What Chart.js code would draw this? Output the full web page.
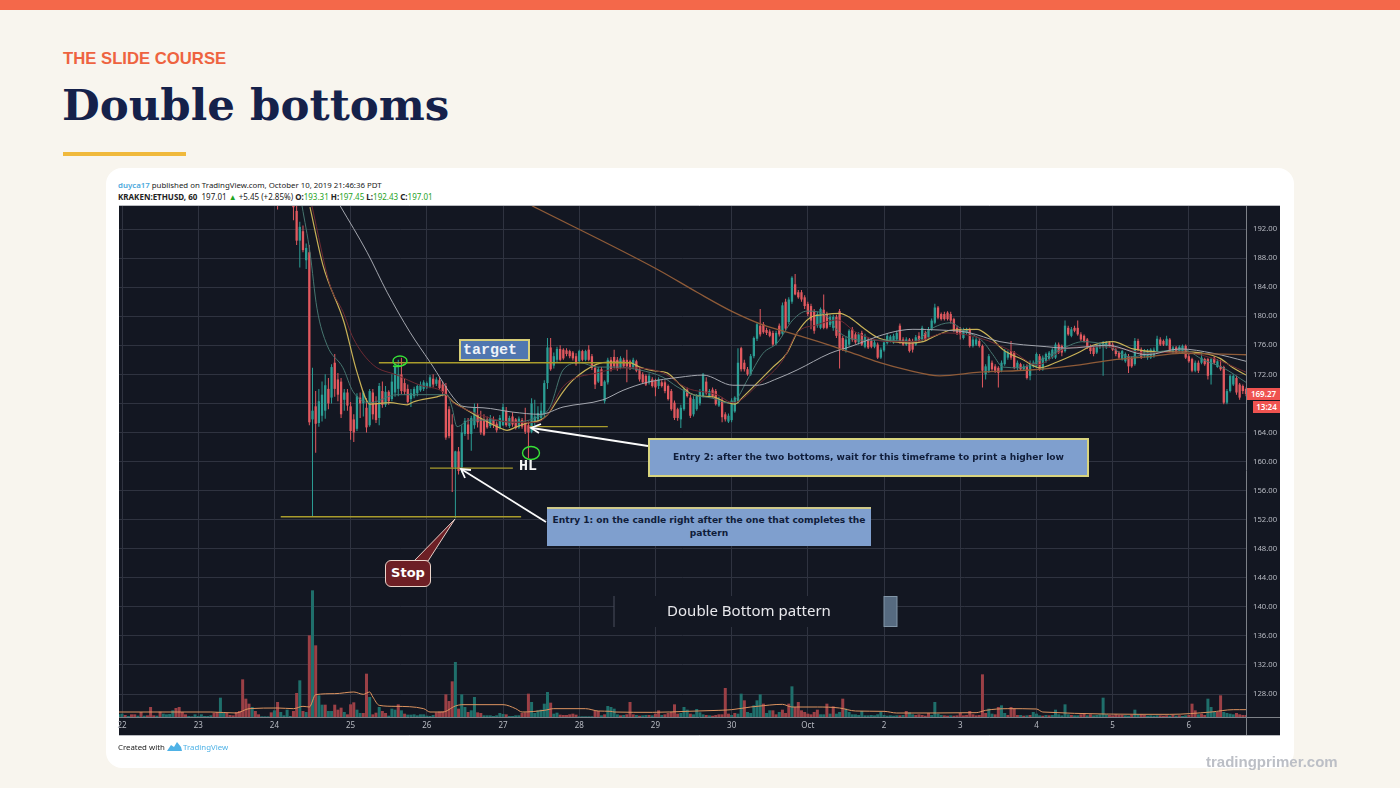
<!DOCTYPE html>
<html><head><meta charset="utf-8">
<script src="https://cdn.jsdelivr.net/npm/chart.js@4"></script>
<style>
html,body{margin:0;padding:0;background:#f8f5ee;}
body{position:relative;width:1400px;height:788px;overflow:hidden;font-family:"Liberation Sans",sans-serif;}
.a{position:absolute;white-space:nowrap;}
#cv{position:absolute;left:0;top:0;width:1400px;height:788px;}
.tv{font-family:"Noto Sans",sans-serif;}
.g{color:#1fa31f;}
.note{background:#7f9fce;color:#101d3a;font-family:"DejaVu Sans",sans-serif;font-weight:bold;font-size:9.1px;text-align:center;box-sizing:border-box;}
</style></head><body>
<div class="a" style="left:0;top:0;width:1400px;height:10px;background:#f4684a"></div>
<div class="a" style="left:63px;top:49px;font:bold 16.7px 'Liberation Sans',sans-serif;color:#ee6340">THE SLIDE COURSE</div>
<div class="a" style="left:62px;top:79px;font:bold 43.5px 'DejaVu Serif',serif;color:#15214a;" id="ttl">Double bottoms</div>
<div class="a" style="left:63px;top:152px;width:123px;height:4px;background:#f0b93c"></div>
<div class="a" style="left:106px;top:168px;width:1188px;height:600px;background:#fff;border-radius:16px"></div>
<div class="a tv" style="left:118px;top:179px;font-size:7.85px;line-height:12px;color:#222"><span style="color:#4aa8dc;font-weight:600">duyca17</span> published on TradingView.com, October 10, 2019 21:46:36 PDT</div>
<div class="a tv" style="left:118px;top:191px;font-size:8px;line-height:12px;color:#222"><b>KRAKEN:ETHUSD, 60</b>&nbsp; 197.01 <span class="g">▲</span> +5.45 (+2.85%) <b>O:</b><span class="g">193.31</span> <b>H:</b><span class="g">197.45</span> <b>L:</b><span class="g">192.43</span> <b>C:</b><span class="g">197.01</span></div>
<canvas id="cv" width="1400" height="788"></canvas>

<svg class="a" style="left:0;top:0" width="1400" height="788" viewBox="0 0 1400 788">
  <rect x="614" y="596" width="270" height="31" fill="#131722"/>
  <line x1="614" y1="596" x2="614" y2="627" stroke="#4a4f5c" stroke-width="1"/>
  <rect x="884" y="596.5" width="13" height="30" fill="#566a80" stroke="#8296a8" stroke-width="1"/>
  <g fill="none" stroke="#fbfbfb" stroke-width="1.8">
    <path d="M648 446 L532 428"/><path d="M541 424 L531 428 L539 433"/>
    <path d="M546 522 L461 469"/><path d="M471 470 L461 469 L465 478"/>
  </g>
  <g fill="none" stroke="#37e237" stroke-width="1.4">
    <ellipse cx="400" cy="361" rx="7" ry="5"/><path d="M405 364 Q399 368 393 366"/>
    <ellipse cx="531" cy="453" rx="8.5" ry="6.5"/>
  </g>
  <path d="M414 561 L428 561 L455 519 Z" fill="#6d1f25" stroke="#e6cfc8" stroke-width="1"/>
</svg>
<div class="a" style="left:459px;top:339px;width:71px;height:22px;box-sizing:border-box;background:#5076b0;border:2px solid #d8cf78;color:#eef2f8;font:bold 15px/20px 'Liberation Mono',monospace;padding-left:2px">target</div>
<div class="a" style="left:519px;top:459px;color:#f4f4f4;font:bold 15px/16px 'Liberation Mono',monospace">HL</div>
<div class="a note" style="left:648px;top:438px;width:441px;height:39px;border:2px solid #d8d47e;line-height:35px;">Entry 2: after the two bottoms, wait for this timeframe to print a higher low</div>
<div class="a note" style="left:547px;top:507px;width:324px;height:39px;border-top:2px solid #cfc98a;padding-top:5px;line-height:13px;white-space:normal;">Entry 1: on the candle right after the one that completes the<br>pattern</div>
<div class="a" style="left:385px;top:560px;width:46px;height:27px;box-sizing:border-box;background:#6d1f25;border:1.5px solid #ecd6cc;border-radius:6px;color:#fff;font:bold 13px/24px 'DejaVu Sans',sans-serif;text-align:center">Stop</div>
<div class="a" style="left:614px;top:600px;width:270px;text-align:center;color:#e8e8ec;font:15px/20px 'Noto Sans',sans-serif">Double Bottom pattern</div>
<div class="a tv" style="left:1247px;top:388px;width:33px;height:12px;background:#ef5350;color:#fff;font-size:8px;line-height:12px;text-align:center;font-weight:600">169.27</div>
<div class="a tv" style="left:1253px;top:401px;width:27px;height:12px;background:#ef5350;color:#fff;font-size:8px;line-height:12px;text-align:center;font-weight:600">13:24</div>
<div class="a tv" style="left:118px;top:741px;font-size:7.85px;line-height:12px;color:#222">Created with</div>
<svg class="a" style="left:167px;top:741px" width="15" height="11" viewBox="0 0 15 11"><path d="M0 10 L4 4 L7 6 L10 1 L14 6 L15 10 Z" fill="#4fb2e6"/></svg>
<div class="a tv" style="left:183px;top:741px;font-size:7.85px;line-height:12px;color:#4fb2e6">TradingView</div>
<div class="a" style="left:1206px;top:753px;font:bold 15px/18px 'Liberation Sans',sans-serif;color:#bcbfc6">tradingprimer.com</div>

<script>
// x axis: hours since 22 Sep 00:00
const dayLabels = ['22','23','24','25','26','27','28','29','30','Oct','2','3','4','5','6'];
const dayHours  = [0,24,48,72,96,120,144,168,192,216,240,264,288,312,336];
const priceTicks = [128,132,136,140,144,148,152,156,160,164,168,172,176,180,184,188,192];

const firstCandleHour = 49;
const opens = [
197.5,198,197,198,197,196,194.5,190.4,191.7,187.7,
188.8,165.8,167.6,165.3,166.3,167,170,168.8,173.6,171.3,
171,168.5,169.5,167.6,165.8,164.5,168.8,168,167.4,165,
169.5,168,166,169.7,167.8,169.6,168.6,169.5,170,172,
170.8,170,168.6,169,169.4,169.8,170,170.2,170.3,171.4,
170.7,171.2,170.6,170.4,167.2,165.1,159.2,161.4,159.2,163.8,
165.1,163.8,165,166.5,166,165.8,165.8,164.9,165.8,165.2,
164.6,165,167,164.9,166.2,165.8,164.7,165.7,165.3,165,
164.1,165.5,165.8,166,166.5,170.8,175.7,173.2,174,175.5,
175.4,175.3,175.2,175,174.5,173.8,175.2,174,175.4,174.5,
172.9,171,172.7,168.3,170.9,174,174.4,174,173,174,
174,173.8,172.9,173.8,172.7,172,171.8,170.9,171.3,171.1,
170.4,170.9,170.9,170.4,169.7,168.1,167.2,165.8,167.2,169.9,
168.8,166.5,167.2,168,169,171,169,169.9,169.7,167.7,
168.4,166.5,165.5,165.7,166.9,168.2,175.6,173.6,172.7,172,
174.5,176.9,178.7,178.9,178.1,177.9,177.7,176.2,178.7,177.6,
182,179.2,182,184.4,183.3,183.3,182.6,181.7,181.4,180.7,
178.7,178.4,180.9,180.3,178.8,178.4,179.9,180.7,177,175.4,
176.1,178.2,177.5,176.4,177.7,175.8,176.8,176.6,175.8,176.1,
174.3,175.3,176.3,176.6,176.4,176.8,178.7,176.8,176.1,176.8,
176.6,176.1,177.3,176.8,177.7,177.1,178.2,179.1,181.2,180.3,
180.3,180.5,180.3,179.6,178.4,178.2,177,177.7,178.2,175.9,
176.1,176.6,175.9,172,172.5,173.6,173.1,172.9,172.5,173.4,
174.3,175.2,175,172.9,173.4,172.7,173.1,171.8,173.1,173.1,
174.5,172.7,173.8,174.1,174.3,174.3,176.1,175.9,175.2,178.4,
177.3,178.4,178.4,177.5,177.3,176.8,175.9,175.7,175,175.7,
175.7,175.7,176.4,176.1,175.4,175,174.1,173.8,174.5,174.3,
173.4,176.6,175.4,174.5,174.3,174.3,174.5,175,176.8,176.6,
176,176.8,175,175.7,175.2,175,175.9,174.5,174.1,172.5,
173.6,173.6,174.1,174.1,171.9,174.3,173,173.1,173,168.1,
169.7,170.6,171.5,170.6,170.4,170];
const closes = [
197,197,198,197,196,195,190.4,192.3,189.1,189.4,
165.4,167,165.2,168.3,169.2,170.5,168,173,170,169.2,
166.5,169.5,167.7,164.2,164,169,168,169.5,164.7,169.7,
166.5,165.7,170.4,167.8,169.6,168.3,171,173,172,169.7,
169.6,168.2,169.4,170,170.4,170.6,170.9,170.8,171.6,170.6,
171.3,170.1,169.6,163.3,163.5,159.2,161.4,158.7,164,165.6,
163.8,166,167.4,165.4,164,163.7,164.7,166,165,164.3,
166,167.5,165,166,165.1,164.6,165.9,164.8,164.1,164,
168,166.2,166.7,167,170.8,175.7,172.7,174.5,175.5,174,
174.2,174.8,174.5,174.2,173.4,175.2,174,175.2,174,172.9,
170.6,172.7,170.4,171,174,172.7,173.1,172.8,174.2,173.1,
173.1,172.9,174,172.5,171.3,170.9,170.6,171.8,170.4,170.2,
171.3,170.4,169.7,168.6,167.2,166,166,167.4,169.9,169,
166.3,168.6,169,169.7,172,169.4,169.7,169,167.9,168.6,
166.1,165.8,166.3,168.4,168.8,173.6,172.7,172.7,172,174.5,
177,178.9,177.5,177.8,177.7,177.3,176.1,177.7,177.5,181.5,
178.3,182.3,185.3,183,182.6,182.3,181.4,180.3,179.4,178,
180.3,181,178.4,178.4,179.9,179.9,177.3,175.4,175.4,176.8,
178,176.8,176.4,177.5,176.1,177.3,175.7,175.8,176.4,174.3,
175.4,176.4,177.3,177.2,177.3,177.7,176.4,176.1,176.8,175.2,
175.4,177.1,176.6,178.4,176.8,178.2,179.4,181.2,179.8,179.6,
179.6,179.6,179.4,178,177.7,177.5,178.2,178.2,175.9,176.8,
176.8,175.9,172.5,173.1,174.5,172.7,172.5,172.2,173.6,175.2,
175,174.3,172.9,173.6,172.7,173.1,171.5,173.6,173.6,174.8,
172.7,174.3,174.8,175,175.4,176.1,175,175,178.7,177.5,
178.2,178,177.5,176.8,176.6,175.7,175.2,174.8,175.9,176.1,
176.4,176.4,175.9,175.4,174.8,174.3,175.2,174.8,173.1,173.1,
176.6,175.4,174.3,175.2,175.2,175.4,175.4,176.9,176.1,176.1,
176.9,175.2,175.7,175,175.8,175.9,174.3,173.8,172.5,173.6,
172.5,174.3,173.4,171.8,174.1,173.6,173.8,172.7,168.1,169.7,
171.8,171.8,169.5,168.8,169.7,169.3];
const highs = [
199,198.5,198.6,198.5,197.5,197,196,193,192.5,190,
189.8,172.9,169.7,170,171,172,171.5,173.4,174.8,172.2,
171.5,170,170,168.2,166.5,169.4,169.5,169.7,168.7,170,
170,169,170.8,171,170.4,169.8,172,173.5,174,174.3,
171.5,170.6,170,170.3,170.6,171,171.2,171,171.9,172,
171.6,171.6,171,170.8,167.6,166.5,161.5,162,165,166,
166,166.3,168,168,167,166.5,166.2,166.4,166.2,165.5,
166.4,168,167.5,166.3,166.8,166,166.2,166,167.4,165.5,
168.7,168.5,167.6,168.1,171.2,177,177,175,175.8,176,
175.6,175.6,175.4,175.2,174.9,175.4,175.4,175.4,176,174.8,
173.2,173,173,171.2,174.3,174.4,175.4,174.4,174.5,174.3,
175.4,174,174.3,174,173,172.3,172,172.1,171.6,171.4,
171.6,171.2,171.2,170.6,170,168.4,167.4,167.8,170.2,170.2,
169.2,169,169.3,170,172.2,171.6,170,170.2,170,168.9,
168.8,166.8,166.6,168.7,169,175.6,175.8,174,173,174.8,
177.2,179.2,181,179.2,178.4,178.2,178,178,179,181.9,
182.4,182.6,185.5,185.8,183.6,183.6,182.9,182,181.7,181,
180.6,181.2,183,180.6,180.2,180.2,180.2,181,177.3,177.2,
178.2,178.5,177.8,177.8,178,177.6,177.1,176.9,176.7,176.4,
175.7,176.6,177.6,177.4,177.6,178,179,177.1,177.1,177,
176.9,177.4,177.8,178.7,178,178.5,179.7,181.7,181.4,180.5,
180.6,180.7,180.6,179.8,178.7,178.5,178.4,178.4,178.4,177.2,
177.1,176.9,176.1,173.4,174.8,173.9,173.4,173.1,173.9,175.5,
175.3,176.6,175.2,173.9,173.6,173.4,173.4,173.9,173.9,175,
174.8,174.6,175,175.2,175.6,176.4,176.4,176.1,179.4,178.7,
178.5,178.7,179.4,177.8,177.5,177,176.1,175.9,176.1,176.4,
176.6,176.6,176.6,176.4,175.7,175.2,175.4,175,174.8,174.5,
177,176.9,175.7,175.5,175.5,175.6,175.7,177.3,177.1,176.8,
177.3,177,175.9,175.9,176,176.1,176.1,174.8,174.3,173.9,
173.9,175,174.3,174.3,174.3,174.5,174.1,174,173.2,170,
172,172,171.8,170.8,170.6,170.2];
const lows = [
194.7,196.5,196,196,195.5,193.2,189.8,186.7,188.8,186.5,
165,152.5,161.2,164.8,165.5,165.9,167.2,168,168.9,168.3,
166,167,167,163,162.7,164.2,166,166.2,164,164.8,
165.8,165.3,165,167.4,167.5,167.8,168.3,168.9,169,169.3,
169.2,168,167.5,168.7,169,169.6,169.7,170,170.1,170.2,
170.4,169.9,169,163,163.2,155.8,152.2,158.2,158.5,163.5,
163,161.5,164.5,164.7,163.7,163.5,164.5,164.6,164.6,164,
164.4,164.9,164.8,164.6,164.8,164.4,164.5,164.5,163.8,160.5,
163.9,165,165.4,165.8,166,170,172.5,172.8,173.7,173.8,
174,174.5,174.2,173.9,173.2,173.5,173.8,173.8,173.8,172.6,
170,170.8,170.4,168,170.6,172.4,172.8,172.5,172.7,172.9,
170.9,172.6,172.7,172.3,171,170.7,170.4,170.6,170.2,169,
170,170.2,169.4,168.4,167,165.7,165.6,164.6,167,168.8,
166,166.2,167,167.7,168.8,169.2,168.8,168.8,167.7,167.5,
165.4,165.5,165.3,165.4,166.7,168,172.4,172.4,171.8,171.8,
174.2,176.6,177.2,177.6,177.4,177.1,175.9,176,177.2,177.4,
178,178.9,181.7,182.9,182.4,182,181,180,178.2,177.6,
178.4,178.2,178.2,178.2,178.5,178,177,172.8,175.2,175,
175.8,176.5,176.2,176.1,175.9,175.6,175.5,175.6,175.6,174.1,
174.1,175.1,176.1,176.4,176.2,176.5,176.2,175.9,175.9,175,
175,175.9,176.4,176.5,176.6,176.9,178,178.9,179.6,179.4,
179.4,179.4,179,177.8,177.4,176.8,176.8,177.5,175.7,175.7,
175.9,175.7,170.2,171.3,172.2,172.5,172.2,170.2,172.3,173.2,
174,174,172.7,172.5,172.5,172.5,171.3,171.2,172.9,172.9,
172.5,172.5,173.6,173.9,174.1,174.1,174.8,174.5,175,177.3,
177.1,177.8,177.3,176.6,176.4,175.5,174.8,174.5,174.8,175.5,
171.8,175.5,175.7,175.2,174.5,174.1,173.9,173.6,172.2,172.9,
173.2,175.2,174.1,174.3,174,174.1,174.3,174.8,175.9,175.9,
175.9,175,174.8,174.8,175,174.8,174.1,173.6,172.3,172.3,
172.2,173.4,173.2,171.3,170.6,173.4,172.9,172.5,167.9,167.9,
169.5,170.4,169.2,168.5,169.3,169];

// volume: one entry per hour from firstVolumeHour, negative = falling hour
const firstVolumeHour = -1;
const volumes = [
8,10,-6,3,-8,-8,4,-15,4,-5,-30,-5,4,-16,10,8,9,20,-27,-30,
-15,-8,3,2,8,3,8,3,3,5,-12,-15,58,15,-12,-6,-5,-15,-18,-113,
-55,-40,30,-18,-8,2,2,2,-14,20,-45,15,5,22,3,-18,-72,110,-18,15,
-245,380,-215,65,37,-37,18,18,-37,-22,-28,15,-8,-38,-44,22,12,-12,-130,60,
-8,-13,30,-18,-12,4,25,22,-38,20,-10,7,7,8,5,8,8,4,3,6,
-14,-16,-17,-68,-48,-107,165,-25,68,30,-15,20,60,-14,-12,5,5,5,3,5,
12,9,-8,3,3,5,5,-12,-14,-70,45,12,20,22,40,75,-43,10,13,-7,
-6,-6,-8,-10,-7,2,2,2,2,2,-18,-18,5,-8,33,30,25,8,-5,6,
-8,-45,-8,6,-4,5,6,-6,5,-10,-20,6,-8,-12,-15,-38,-10,12,30,22,
-10,8,24,14,8,-6,5,-4,-6,-8,-8,-87,-10,6,-12,10,70,-50,15,12,
35,50,68,-40,12,20,-20,-8,15,-22,-12,-40,92,-30,-45,-20,-15,-10,-8,-15,
-22,8,8,-40,10,-32,10,15,-55,25,15,8,8,6,18,5,5,6,5,8,
15,6,4,5,4,5,-5,6,-18,14,8,-6,-8,-6,-4,-12,6,45,10,6,
-5,-4,5,-4,-5,-12,-5,-6,-18,-8,-5,-6,-128,-12,25,10,-8,-30,35,12,
-6,-30,-25,-6,6,-4,5,-6,15,10,5,-4,6,-5,6,22,8,5,38,8,
-6,5,5,-8,-12,5,-8,5,6,8,58,8,-6,-5,-8,-6,-6,5,4,-6,
22,8,-8,-6,4,5,4,5,-5,-4,-5,4,-6,4,-5,3,5,-6,-40,-20,
8,-10,-6,55,30,15,-15,-65,15,12,10,8,-12,-8,-6,-6];
const volumeAverageHours = [-1,28,36,40,49,54,57,59,61,67,73,76,78,79,81,86,95,97,101,105,107,120,124,126,133,136,146,150,154,155,167,178,188,192,198,200,208,211,219,226,231,240,244,269,272,279,288,290,330,343,350,352,354];
const volumeAverages = [15,15,12,25,27,25,32,30,67,70,75,68,75,60,35,32,25,15,15,33,37,37,25,15,20,25,25,18,17,15,14,17,20,22,30,32,38,30,30,27,18,17,12,13,20,25,24,15,8,15,22,22,22];

// moving averages at hour / price pairs
const yellowHours = [59.2,63.3,69.9,74,78.1,84.4,89.8,91.7,99.2,101.7,104.3,107.4,112.8,118.1,121.3,124.4,127.6,131.7,133.9,138.9,142,149.6,153.7,160,163.1,167.2,171.7,174.8,178.9,182,186.1,190.6,193.1,195.6,200,205,209.4,212.6,216.7,220.8,226.1,229.3,233.4,237.8,242.8,248.2,252.3,256.7,261.4,269.3,273.4,277.5,283.8,289.1,294.5,300.8,305.8,312.1,318.4,326,333.2,340.5,345.8,349.9,354];
const yellowPrices = [195,187,179.2,172.3,167.9,168.1,167.8,168.2,168.9,169.2,168.2,167.4,166,164.8,164.3,164.8,165.3,165.7,166.4,169.6,171.2,173.4,173.7,173.6,173,172.5,172.2,171,169.4,169,168.9,168.1,167.9,168.9,170.8,173,174.9,177.7,179.8,180.2,180.4,179.8,178.4,177.1,176.5,176.3,176.5,177.4,178.1,178.2,177.1,175.4,174,172.9,173.7,174.9,176,176.5,175.5,175.1,175.1,174.9,174.2,172.9,171.9];
const tealHours = [56.7,59.2,61.4,64.6,69.6,72.8,78.1,86.6,102.4,103.9,105.5,109.6,116.9,122.2,130.7,134.8,138.9,144.3,149.6,155.9,163.1,170.4,174.8,179.8,186.1,190.6,193.7,196.9,201.9,206.3,211.3,215.7,220.8,226.1,233.4,241.6,249.1,255.4,260.8,264.9,271.2,274.3,277.5,282.8,288.2,296.4,302.7,310.2,317.5,326,334.2,340.5,346.8,354];
const tealPrices = [195.2,188.8,181.1,176,172.9,169.6,168.1,169.2,169.2,167.5,164.8,165.7,165.7,165.4,166.1,167.5,172.6,173.6,173,173,172.6,171.6,170.3,169.2,168.7,168.1,168.7,171.2,174.9,176.3,179.5,180.7,180.4,177.7,176.7,176.7,176.5,178.4,179.1,178.1,176.5,174.7,173,172.9,173.7,175.6,176.5,176,174.4,175.1,175.4,174,172.9,170.9];
const redHours = [59.8,65.5,69.6,72.8,79.1,86.6,93.9,101.1,104.3,108.7,115,123.1,130.7,133.9,138.9,149.6,160,170.4,178,187.4,192.4,200.9,208.2,212.6,218.9,225.2,231.5,241.6,249.1,259.8,270.2,280.6,288.2,297.6,305.8,314.3,322.8,333.2,343.6,354];
const redPrices = [195.2,184.3,180.6,177,173.3,171.9,170.5,169.6,168.1,167.1,166.1,165.4,165.4,166.4,170.3,172.2,172.9,172.2,170.1,169.2,168.1,170.8,174,177.7,178.8,179.5,177.7,176.5,176.5,177.7,177,175.1,173.3,175.6,175.8,175.6,174.9,175.1,174.2,172.3];
const greyHours = [68.7,77.2,83.5,90.7,97,105.5,107.4,113.7,123.1,131.7,138.9,151.5,157.8,165.4,175.7,183,192.4,200,206.3,212.6,223,229.3,241.6,249.1,257.6,266.1,276.5,291.3,297.6,310.2,322.8,333.2,343.6,354];
const greyPrices = [195.2,188.8,183.3,177.8,173.7,168.2,167.6,167.4,166.8,166.5,167.5,168.5,169.8,170.9,171.6,171.9,170.5,170.5,171.4,172.6,174.9,175.8,177.7,178.2,178.1,177.8,176.5,175.8,175.6,176,174.7,175.5,174.9,173.8];
const brownHours = [129.1,168.8,181.1,192.4,201.9,212.6,223,233.4,238.7,247.2,257.6,270.2,286,301.7,312.1,322.8,333.2,354];
const brownPrices = [195.2,186.4,183.3,180.6,178.8,177.4,176,174.4,173.6,172.6,171.8,172.3,172.6,173.3,174,174.4,174.9,174.7];

// drawn level lines: start hour, end hour, price
const levelStarts = [80.9,97,50,128.5];
const levelEnds   = [160.6,123.1,125.7,153];
const levelPrices = [173.6,159.1,152.4,164.8];

const GREEN='#2b9d94', RED='#e2595f', VGREEN='#1f6f6b', VRED='#9b4046';
const candleHours = opens.map((_,i)=>firstCandleHour+i);
const isUp = opens.map((o,i)=>closes[i]>=o);
const candleColors = isUp.map(u=>u?GREEN:RED);
const pairs = (xs,ys)=>xs.map((x,i)=>({x,y:ys[i]}));
const line = (xs,ys,color,w,axis)=>({type:'line',data:pairs(xs,ys),borderColor:color,borderWidth:w,pointRadius:0,cubicInterpolationMode:'monotone',order:2,yAxisID:axis||'y',parsing:true});

const datasets = [
  {label:'volume',yAxisID:'vol',order:9,grouped:false,barThickness:3,maxBarThickness:3,inflateAmount:0,
   data:volumes.map((v,i)=>({x:firstVolumeHour+i,y:Math.abs(v)})),
   backgroundColor:volumes.map(v=>v<0?VRED:VGREEN)},
  Object.assign(line(volumeAverageHours,volumeAverages,'#dd9460',1,'vol'),{label:'volume average',order:8}),
  {label:'wicks',order:7,grouped:false,barThickness:3,maxBarThickness:1,inflateAmount:0,
   data:candleHours.map((h,i)=>({x:h,y:[lows[i],highs[i]]})),backgroundColor:candleColors},
  {label:'bodies',order:6,grouped:false,barThickness:3,maxBarThickness:2.3,inflateAmount:0,
   data:candleHours.map((h,i)=>({x:h,y:[opens[i],closes[i]]})),backgroundColor:candleColors},
  Object.assign(line(brownHours,brownPrices,'#8f5b38',1.3),{label:'MA long'}),
  Object.assign(line(greyHours,greyPrices,'#a3a6ae',1),{label:'MA grey'}),
  Object.assign(line(redHours,redPrices,'#6d2a33',1),{label:'MA red'}),
  Object.assign(line(tealHours,tealPrices,'#46756f',1),{label:'MA teal'}),
  Object.assign(line(yellowHours,yellowPrices,'#c9b257',1.2),{label:'MA yellow'}),
];
levelPrices.forEach((p,i)=>datasets.push({type:'line',label:'level '+i,order:1,pointRadius:0,borderColor:'#a99c2c',borderWidth:1.4,
  data:[{x:levelStarts[i],y:p},{x:levelEnds[i],y:p}]}));

const panel = {id:'panel',
  beforeDraw(c){const {ctx,chartArea:a,scales:{x,y}}=c;
    ctx.save();ctx.fillStyle='#131722';
    ctx.fillRect(a.left,a.top,y.right-a.left,x.bottom-a.top);ctx.restore();},
  afterDraw(c){const {ctx,chartArea:a,scales:{x,y}}=c;
    ctx.save();ctx.strokeStyle='#7d8188';ctx.lineWidth=1;ctx.beginPath();
    ctx.moveTo(a.right+.5,a.top);ctx.lineTo(a.right+.5,x.bottom);
    ctx.moveTo(a.left,a.bottom+.5);ctx.lineTo(y.right,a.bottom+.5);
    ctx.stroke();
    ctx.strokeStyle='#b9bbc0';ctx.beginPath();
    ctx.moveTo(a.left,x.bottom+.5);ctx.lineTo(y.right,x.bottom+.5);
    ctx.moveTo(a.left,a.top-.5);ctx.lineTo(y.right,a.top-.5);ctx.stroke();ctx.restore();}
};

new Chart(document.getElementById('cv'),{
  type:'bar',
  data:{datasets},
  plugins:[panel],
  options:{
    responsive:false,animation:false,
    layout:{padding:{left:119,top:206,right:120,bottom:53}},
    plugins:{legend:{display:false},tooltip:{enabled:false}},
    scales:{
      x:{type:'linear',min:-0.945,max:354,offset:false,
        grid:{offset:false,color:'#2f3340',lineWidth:1,drawTicks:false},border:{display:false},
        afterBuildTicks(s){s.ticks=dayHours.map(value=>({value}));},
        afterFit(s){s.height=18;},
        ticks:{autoSkip:false,maxRotation:0,padding:4,color:'#b7bac2',font:{family:'"Noto Sans"',size:8},
          callback:v=>dayLabels[dayHours.indexOf(v)]}},
      y:{position:'right',min:124.84,max:195.17,
        grid:{color:'#2f3340',lineWidth:1,drawTicks:false},border:{display:false},
        afterBuildTicks(s){s.ticks=priceTicks.map(value=>({value}));},
        afterFit(s){s.width=34;},
        ticks:{padding:7,color:'#b7bac2',font:{family:'"Noto Sans"',size:7.7},callback:v=>Number(v).toFixed(2)}},
      vol:{display:false,min:0,max:1533}
    }
  }
});
</script>
</body></html>
